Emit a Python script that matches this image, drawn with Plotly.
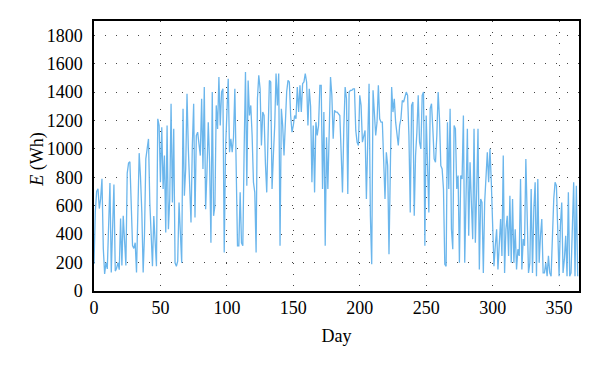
import plotly.graph_objects as go

# Daily energy values E (Wh), days 0..364
seg1 = [190, 560, 700, 720, 580, 650, 790, 300, 120, 200, 155, 420, 760, 130, 480, 750, 140, 160, 200, 150,
        510, 180, 530, 300, 180, 830, 900, 910, 520, 320, 300, 340, 130, 560, 970, 800, 550, 130, 400]
seg2 = [930, 1000, 1070, 623, 339, 174, 527, 300, 174, 1212, 1165, 765, 1153, 718, 953, 412, 1165, 435, 647, 1318,
        623, 1141, 198, 174, 210, 623, 400, 198, 1283, 670, 859, 1388, 1000, 700, 482, 1024, 1318, 518, 1094, 1118,
        1047, 953]
seg3 = [1353, 859, 1436, 576, 835, 1188, 906, 339, 1400, 529, 600, 1306, 1141, 1506, 1165, 1400, 1423, 271, 1000, 1330,
        1494, 976, 1071, 976, 1082, 1423, 835, 318, 318, 694, 339, 318, 1000, 1541, 741, 1482, 1235, 1306, 1094, 765,
        694]
seg4 = [271, 1353, 1518, 1423, 1024, 1259, 1235, 900, 694, 1094, 1482, 1471, 718, 953, 1165, 1530, 1306, 1530, 318, 1283,
        1165, 953, 1200, 1400, 1482, 1471, 1235, 1118, 1165, 1235, 1212, 1435, 1259, 1447, 1259, 1459, 1471, 1530, 1471, 1165,
        1423]
seg5 = [1300, 765, 1165, 694, 1188, 1094, 1165, 1447, 1447, 718, 1259, 318, 1082, 718, 1235, 1506, 1377, 1071, 1271, 1259,
        1259, 1250, 1235, 976, 694, 1141, 1435, 1353, 682, 1400, 1412, 1412, 1423, 1423, 1130, 1047, 1024, 1377, 1306, 1047,
        1094]
seg6 = [1130, 647, 1047, 1459, 529, 188, 1412, 1212, 1094, 1188, 1447, 1212, 1188, 1188, 953, 647, 976, 882, 259, 953,
        1435, 1259, 1353, 1188, 1082, 1024, 1165, 1212, 1341, 1330, 1365, 1400, 1377, 1094, 553, 1306, 1330, 529, 953, 1118,
        1377, 1047]
seg7 = [1000, 1377, 1400, 318, 1235, 882, 553, 1283, 1318, 1141, 929, 906, 1094, 1400, 1212, 882, 859, 718, 188, 174,
        1188, 718, 1283, 435, 294, 1165, 1141, 718, 812, 198, 812, 788, 1235, 198, 694, 1141, 388, 906, 623, 365,
        1141]
seg8 = [339, 700, 1141, 151, 647, 623, 127, 623, 859, 976, 765, 1000, 765, 412, 174, 318, 435, 151, 388, 506,
        247, 953, 127, 435, 529, 247, 670, 198, 647, 198, 435, 151, 294, 247, 788, 151, 365, 318, 929, 435,
        127]
seg9 = [198, 718, 127, 576, 765, 104, 788, 198, 388, 506, 127, 127, 198, 104, 247, 127, 104, 412, 647, 765,
        741, 435, 104, 459, 623, 127, 224, 388, 104, 694, 104, 127, 529, 765, 104, 741, 104]

energy = seg1 + seg2 + seg3 + seg4 + seg5 + seg6 + seg7 + seg8 + seg9
days = list(range(len(energy)))

x_ticks = [0, 50, 100, 150, 200, 250, 300, 350]
y_ticks = [0, 200, 400, 600, 800, 1000, 1200, 1400, 1600, 1800]

fig = go.Figure()
fig.add_trace(go.Scatter(x=days, y=energy, mode="lines",
                         line=dict(color="#6bb6ec", width=1.3), showlegend=False))

font = dict(family="Liberation Serif", size=18, color="black")
fig.update_layout(
    width=600, height=369,
    margin=dict(l=94, r=21, t=21, b=78, autoexpand=False),
    paper_bgcolor="white", plot_bgcolor="white",
    font=font,
    xaxis=dict(range=[0, 365], tickvals=x_ticks, showgrid=True, gridcolor="#444",
               griddash="1px,10px", gridwidth=1, showline=True, linecolor="black",
               linewidth=1.5, mirror=True, zeroline=False, ticks="",
               ticklabelstandoff=0, automargin=False, tickfont=font,
               title=dict(text="Day", font=font, standoff=12)),
    yaxis=dict(range=[0, 1900], tickvals=y_ticks, showgrid=True, gridcolor="#444",
               griddash="1px,10px", gridwidth=1, showline=True, linecolor="black",
               linewidth=1.5, mirror=True, zeroline=False, ticks="",
               ticklabelstandoff=6, automargin=False, tickfont=font),
    annotations=[dict(text="<i>E</i> (Wh)", xref="paper", yref="paper",
                      x=-0.118, y=0.485, xanchor="center", yanchor="middle",
                      textangle=-90, showarrow=False, font=font)],
)

fig.write_html("out.html", config={"displayModeBar": False},
               post_script="document.body.style.margin='0';")
